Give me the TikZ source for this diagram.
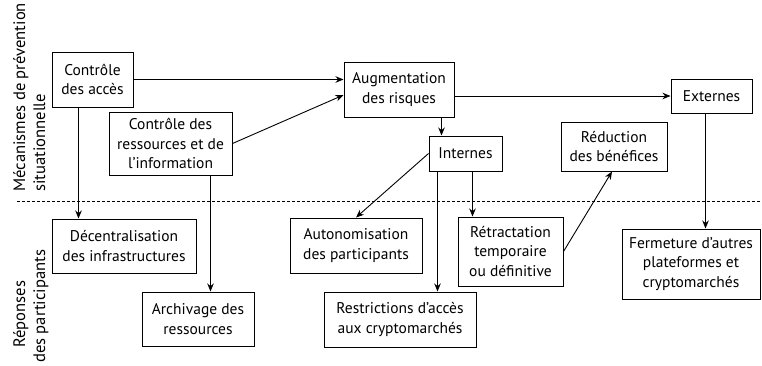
\documentclass[tikz,border=0pt]{standalone}
\usepackage{fontspec}
\setmainfont{PT Sans}
\usetikzlibrary{arrows.meta,calc}
\begin{document}
\begin{tikzpicture}[x=1pt,y=-1pt,
  box/.style={draw,line width=1pt,align=center,inner sep=0pt,font=\fontsize{15.5}{19.5}\selectfont},
  arr/.style={-{Stealth[length=8pt,width=6.5pt]},line width=0.9pt},
  lab/.style={rotate=90,inner sep=0pt,font=\fontsize{16.6}{19.5}\selectfont}]
\useasboundingbox (0,0) rectangle (762,365);
% boxes
\node[box,minimum width=81pt,minimum height=55pt] (acces) at (92.5,79.5) {Contrôle\\des accès};
\node[box,minimum width=123pt,minimum height=63pt] (ress) at (170.5,143.5) {Contrôle des\\ressources et de\\l’information};
\node[box,minimum width=110pt,minimum height=55pt] (aug) at (399,89.5) {Augmentation\\des risques};
\node[box,minimum width=81pt,minimum height=34pt] (ext) at (711.5,96) {Externes};
\node[box,minimum width=73pt,minimum height=35pt] (int) at (465.5,153.5) {Internes};
\node[box,minimum width=106pt,minimum height=49pt] (red) at (614,146.5) {Réduction\\des bénéfices};
\node[box,minimum width=144pt,minimum height=54pt] (dec) at (124,246) {Décentralisation\\des infrastructures};
\node[box,minimum width=112pt,minimum height=54pt] (arch) at (198,319) {Archivage des\\ressources};
\node[box,minimum width=132pt,minimum height=55pt] (auto) at (356,245.5) {Autonomisation\\des participants};
\node[box,minimum width=152pt,minimum height=55pt] (restr) at (400,319.5) {Restrictions d’accès\\aux cryptomarchés};
\node[box,minimum width=105pt,minimum height=69pt] (retr) at (510.5,251.5) {Rétractation\\temporaire\\ou définitive};
\node[box,minimum width=138pt,minimum height=70pt] (ferm) at (691,264) {Fermeture d’autres\\plateformes et\\cryptomarchés};
% side labels
\node[lab,anchor=base west] (m1) at (25,192) {Mécanismes de prévention};
\node[lab,anchor=base west] (m2) at (45,192) {situationnelle};
\node[lab,anchor=base west] (p1) at (25,348) {Réponses};
\node[lab,anchor=base west] (p2) at (45,363) {des participants};
% separator
\coordinate (d1) at (17,201);
\coordinate (d2) at (762,201);
\draw[line width=0.7pt,dash pattern=on 3pt off 2pt] (d1) -- (d2);
% connectors
\draw[arr] (acces.east) -- (acces.east -| aug.west);
\draw[arr] (ress.east) -- ($(aug.west)+(0,5.5)$);
\draw[arr] (ext.west -| aug.east) -- (ext.west);
\coordinate (ai) at ($(int.north west)+(13,0)$);
\draw[arr] (aug.south -| ai) -- (ai);
\draw[arr] (int.west) -- (auto.north);
\coordinate (i1) at ($(int.south west)+(9,0)$);
\draw[arr] (i1) -- (i1 |- restr.north);
\coordinate (i2) at ($(int.south west)+(44,0)$);
\draw[arr] (i2) -- (i2 |- retr.north);
\draw[arr] (retr.east) -- ($(red.south)+(-2,0)$);
\coordinate (e1) at ($(ext.south west)+(35,0)$);
\draw[arr] (e1) -- (e1 |- ferm.north);
\coordinate (a1) at ($(acces.south west)+(27,0)$);
\draw[arr] (a1) -- (a1 |- dec.north);
\coordinate (r1) at ($(ress.south west)+(102,0)$);
\draw[arr] (r1) -- (r1 |- arch.north);
\end{tikzpicture}
\end{document}
